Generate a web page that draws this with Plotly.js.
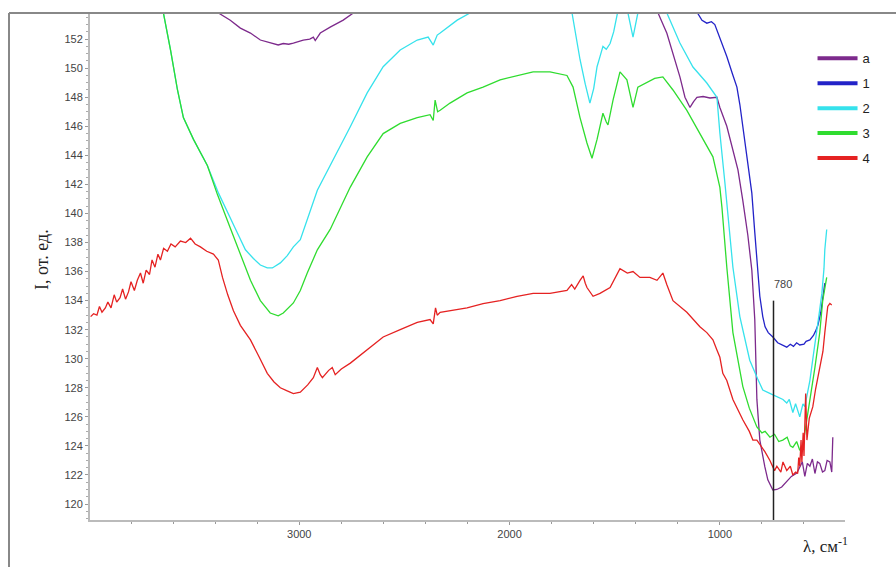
<!DOCTYPE html>
<html><head><meta charset="utf-8">
<script src="https://cdn.plot.ly/plotly-3.0.1.min.js"></script>
<style>html,body{margin:0;padding:0;background:#fff;}#chart{width:896px;height:567px;}</style>
</head><body><div id="chart"></div>
<script>
// Series a (purple)
const aWave = [3990,3450,3384,3328,3280,3232,3185,3138,3100,3076,3050,3028,2981,2950,2933,2924,2900,2853,2791,2743,2600,1400,1294,1252,1223,1190,1166,1142,1125,1109,1080,1047,1014,1000,967,938,914,891,867,848,834,824,810,786,772,748,729,706,690,677,660,634,620,608,596,584,572,560,548,536,525,512,501,490,477,468,463];
const aInt  = [157,154.6,153.8,153.3,152.76,152.42,151.94,151.73,151.6,151.7,151.65,151.73,151.94,152.0,152.14,151.9,152.42,152.83,153.31,153.8,156,156,153.8,152.4,151.0,149.4,148.0,147.3,147.7,148.0,148.05,147.95,148.0,147.3,146.0,144.4,143.0,140.9,138.5,136.1,132.7,127.2,124.4,122.55,121.66,120.97,121.0,121.17,121.4,121.66,121.9,122.14,122.5,122.9,121.9,122.8,122.6,123.1,122.1,122.9,122.8,122.2,122.3,123.0,122.9,122.2,124.6];

// Series 1 (blue)
const b1Wave = [1200,1109,1085,1062,1040,1024,1000,967,940,919,905,891,867,848,834,820,810,796,785,770,748,725,700,682,665,650,635,620,600,590,572,555,545,534,520,511,501];
const b1Int  = [156,153.8,153.3,153.1,153.2,153.0,152.1,150.8,149.6,148.7,147.5,146.0,143.7,141.4,138.7,136.2,134.3,132.9,132.2,131.8,131.5,131.1,130.9,130.8,131.0,130.85,131.1,130.95,131.0,131.2,131.3,131.6,131.9,132.3,133.2,134.0,135.2];

// Series 2 (cyan)
const c2Wave = [3660,3646,3612,3579,3551,3503,3437,3384,3294,3256,3218,3185,3152,3128,3090,3057,3028,2995,2914,2838,2758,2677,2601,2520,2439,2387,2363,2344,2330,2249,2188,2000,1750,1703,1665,1640,1618,1600,1584,1570,1556,1540,1522,1505,1489,1470,1437,1413,1390,1340,1252,1190,1128,1062,1014,1000,976,952,938,905,858,820,796,760,729,700,682,670,653,640,620,605,596,585,572,556,539,526,515,505,501,492];
const c2Int  = [155,153.8,151.25,148.5,146.6,145.1,143.3,141.4,138.65,137.5,136.9,136.45,136.25,136.25,136.6,137.1,137.7,138.2,141.6,143.7,145.95,148.3,150.1,151.25,151.94,152.14,151.59,152.28,152.42,153.31,153.8,156,156,153.8,150.6,148.9,147.6,148.6,150.1,150.8,151.5,151.3,151.7,152.5,153.8,155,153.8,152.14,153.8,156,153.8,151.73,150.08,148.98,148.0,145.54,142.1,138.65,136.3,132.9,129.9,128.6,127.85,127.6,127.4,127.2,126.95,127.2,126.3,126.9,126.0,126.9,126.7,127.6,128.5,130.2,131.8,133.3,134.5,136.2,137.5,138.9];

// Series 3 (green)
const g3Wave = [3660,3646,3612,3579,3551,3503,3437,3389,3328,3270,3232,3185,3138,3100,3076,3028,2995,2962,2914,2853,2758,2677,2601,2520,2439,2378,2363,2354,2342,2330,2283,2202,2126,2045,1964,1888,1808,1727,1698,1665,1632,1608,1584,1570,1556,1540,1532,1508,1475,1442,1413,1390,1347,1310,1271,1223,1157,1095,1033,1000,990,967,938,891,860,824,800,785,762,740,720,701,680,665,653,635,620,606,596,572,548,525,511,492];
const g3Int  = [155,153.8,151.25,148.5,146.6,145.1,143.3,141.3,139.0,136.8,135.4,134.0,133.15,132.95,133.15,133.84,134.7,135.9,137.5,138.9,141.8,143.9,145.5,146.2,146.6,146.8,146.4,147.8,147.0,147.1,147.6,148.3,148.7,149.2,149.5,149.75,149.75,149.5,148.7,146.6,144.85,143.8,145.1,146.0,146.9,146.3,146.1,147.8,149.75,149.2,147.3,148.7,149.05,149.3,149.4,148.5,147.1,145.5,143.9,141.8,140.4,136.3,131.8,128.1,126.6,125.3,124.9,125.0,124.6,124.8,124.3,124.4,124.6,124.0,123.9,124.3,123.7,124.0,124.9,127.2,129.4,131.8,134.0,135.6];

// Series 4 (red)
const r4Wave = [3992,3978,3962,3950,3938,3922,3910,3895,3880,3868,3852,3840,3826,3812,3800,3784,3770,3755,3742,3728,3712,3700,3686,3672,3660,3645,3627,3610,3590,3565,3540,3517,3495,3470,3440,3408,3385,3365,3340,3313,3280,3232,3190,3152,3120,3090,3060,3028,2995,2960,2933,2914,2900,2890,2860,2843,2829,2800,2757,2677,2601,2520,2439,2378,2363,2352,2344,2330,2282,2202,2126,2045,1964,1888,1808,1727,1705,1690,1665,1650,1640,1632,1603,1570,1522,1475,1440,1413,1380,1333,1299,1271,1252,1223,1157,1095,1062,1033,1014,1000,986,967,938,891,860,843,824,800,786,762,740,729,710,700,682,665,653,640,630,625,620,614,610,604,600,592,586,575,558,545,525,510,501,487,477,468];
const r4Int  = [132.9,133.1,133.0,133.6,133.2,133.5,133.9,133.5,134.4,133.9,134.2,134.8,134.1,134.6,135.3,134.7,135.4,135.9,135.2,136.1,135.8,136.8,136.3,137.2,136.8,137.6,137.4,137.9,137.7,138.1,138.0,138.3,137.9,137.7,137.4,137.2,136.8,135.6,134.4,133.3,132.3,131.3,130.1,129.0,128.4,128.0,127.8,127.6,127.7,128.2,128.7,129.4,128.9,128.7,129.2,129.4,128.9,129.3,129.7,130.6,131.5,132.0,132.5,132.7,132.4,133.5,133.0,133.2,133.3,133.5,133.8,134.0,134.3,134.5,134.5,134.7,135.1,134.8,135.4,135.7,135.2,134.9,134.3,134.5,134.9,136.2,135.9,136.0,135.6,135.6,135.4,135.9,135.1,134.0,133.2,132.2,131.8,131.3,130.6,130.1,129.0,128.5,127.2,125.8,125.0,124.4,124.4,123.9,123.6,123.0,122.3,122.6,122.2,122.9,122.3,122.6,122.0,122.2,122.1,123.2,122.6,124.4,122.9,124.9,123.3,127.6,124.4,125.9,126.7,127.9,129.4,130.5,131.8,133.6,133.8,133.7];

// Legend labels and colours
const seriesNames  = ['a','1','2','3','4'];
const seriesColors = ['#7d2a8c','#2323c8','#36e2ec','#2fdc2f','#e52222'];

// Marked band
const markWave = 745;
const markLabel = '780';
const markTop = 134.0;

const yRange = [118.9, 153.8];
const xRange = [3995, 405];

const waves = [aWave,b1Wave,c2Wave,g3Wave,r4Wave];
const ints  = [aInt,b1Int,c2Int,g3Int,r4Int];

const traces = [];
for (let i=0;i<5;i++){
  traces.push({x:waves[i], y:ints[i], type:'scatter', mode:'lines',
    line:{color:seriesColors[i], width:1.3}, showlegend:false, hoverinfo:'skip'});
}
for (let i=0;i<5;i++){
  traces.push({x:[null], y:[null], type:'scatter', mode:'lines', name:seriesNames[i],
    legendgroup:'g'+i, line:{color:seriesColors[i], width:4}});
}

const layout = {
  width:896, height:567,
  margin:{l:90, r:51, t:13, b:47},
  paper_bgcolor:'#fff', plot_bgcolor:'#fff',
  font:{family:'Liberation Sans, Arial, sans-serif', color:'#333'},
  xaxis:{range:xRange, tickvals:[3000,2000,1000], ticktext:['3000','2000','1000'],
    ticks:'outside', ticklen:3, tickcolor:'#999', showline:true, linecolor:'#bbb', linewidth:2,
    showgrid:false, zeroline:false, tickfont:{size:11, color:'#444'},
    minor:{dtick:200, tick0:0, ticks:'outside', ticklen:2, tickcolor:'#999'}},
  yaxis:{range:yRange, dtick:2, tick0:0, ticks:'outside', ticklen:3, tickcolor:'#999',
    showline:true, linecolor:'#bbb', linewidth:2, showgrid:false, zeroline:false,
    tickfont:{size:11, color:'#444'},
    minor:{dtick:0.5, tick0:0, ticks:'outside', ticklen:2, tickcolor:'#aaa'}},
  legend:{x:0.957, y:0.94, xanchor:'left', yanchor:'top', bgcolor:'rgba(0,0,0,0)',
    tracegroupgap:5, itemwidth:40, font:{size:13, family:'Liberation Sans, Arial, sans-serif', color:'#222'}},
  shapes:[
    {type:'line', xref:'x', yref:'y', x0:markWave, x1:markWave, y0:yRange[0], y1:markTop,
      line:{color:'#222', width:1.5}},
    {type:'line', xref:'paper', yref:'paper', x0:(9-90)/755, x1:(896-90)/755, y0:1, y1:1,
      line:{color:'#888', width:2}},
    {type:'line', xref:'paper', yref:'paper', x0:(9-90)/755, x1:(9-90)/755, y0:1, y1:-47/507,
      line:{color:'#888', width:2}}
  ],
  annotations:[
    {xref:'x', yref:'y', x:markWave, y:markTop+0.6, xanchor:'left', yanchor:'bottom', xshift:-2,
      text:markLabel, showarrow:false, font:{size:11, color:'#444'}},
    {xref:'paper', yref:'paper', x:(42-90)/755, y:(520-260)/507, xanchor:'center', yanchor:'middle', textangle:-90,
      text:'I, от. ед.', showarrow:false, font:{size:18, family:'Liberation Serif, Times New Roman, serif', color:'#222'}},
    {xref:'paper', yref:'paper', x:(825-90)/755, y:-(545-520)/507, xanchor:'center', yanchor:'middle',
      text:'λ, см<sup>-1</sup>', showarrow:false, font:{size:17, family:'Liberation Serif, Times New Roman, serif', color:'#222'}}
  ]
};
Plotly.newPlot('chart', traces, layout, {staticPlot:true, displayModeBar:false});
</script></body></html>
